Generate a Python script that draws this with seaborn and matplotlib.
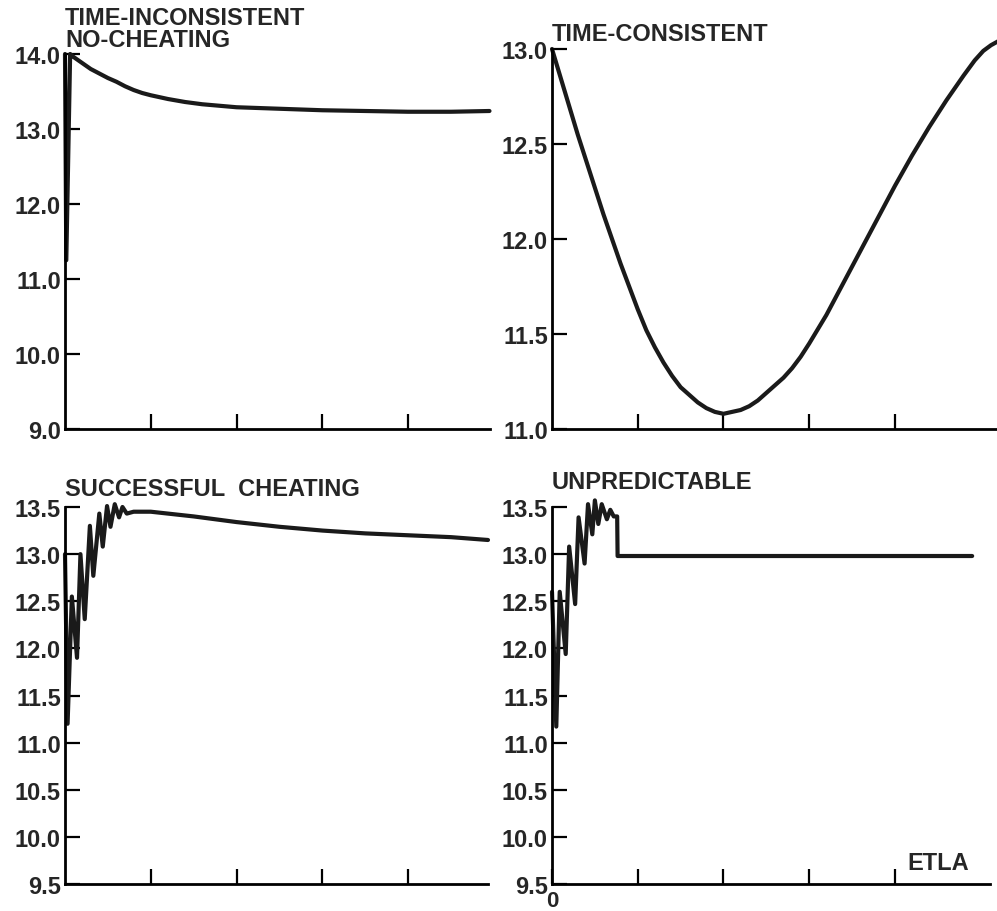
import matplotlib
matplotlib.use("Agg")
import matplotlib.pyplot as plt
import seaborn as sns

# time-inconsistent, no cheating
tl_x = [0.0, 0.15, 0.6, 1, 2, 3, 4, 5, 6, 7, 8, 9, 10, 12, 14, 16, 18, 20, 25, 30, 35, 40, 45, 49.5]
tl_y = [14.0, 11.25, 14.0, 13.96, 13.88, 13.8, 13.74, 13.68, 13.63, 13.57, 13.52, 13.48, 13.45,
        13.4, 13.36, 13.33, 13.31, 13.29, 13.27, 13.25, 13.24, 13.23, 13.23, 13.24]

# time-consistent
tr_x = [0, 1, 2, 3, 4, 5, 6, 7, 8, 9, 10, 11, 12, 13, 14, 15, 16, 17, 18, 19, 20, 21, 22, 23, 24,
        25, 26, 27, 28, 29, 30, 32, 34, 36, 38, 40, 42, 44, 46, 48, 49.3, 50.3, 51.2, 52]
tr_y = [13.0, 12.85, 12.7, 12.55, 12.41, 12.27, 12.13, 12.0, 11.87, 11.75, 11.63, 11.52, 11.43,
        11.35, 11.28, 11.22, 11.18, 11.14, 11.11, 11.09, 11.08, 11.09, 11.1, 11.12, 11.15, 11.19,
        11.23, 11.27, 11.32, 11.38, 11.45, 11.6, 11.77, 11.94, 12.11, 12.28, 12.44, 12.59, 12.73,
        12.86, 12.94, 12.99, 13.02, 13.04]

# successful cheating
bl_x = [0.0, 0.3, 0.8, 1.4, 1.8, 2.3, 2.9, 3.3, 4.0, 4.4, 4.9, 5.3, 5.8, 6.3, 6.7, 7.2, 8, 10,
        12, 15, 20, 25, 30, 35, 40, 45, 49.3]
bl_y = [13.0, 11.2, 12.55, 11.9, 13.0, 12.31, 13.3, 12.77, 13.43, 13.08, 13.51, 13.29, 13.53,
        13.39, 13.5, 13.43, 13.45, 13.45, 13.43, 13.4, 13.34, 13.29, 13.25, 13.22, 13.2, 13.18, 13.15]

# unpredictable
br_x = [0.0, 0.5, 0.9, 1.6, 2.0, 2.7, 3.1, 3.8, 4.2, 4.7, 5.0, 5.4, 5.8, 6.4, 6.8, 7.2, 7.6, 7.65, 49.0]
br_y = [12.6, 11.17, 12.6, 11.94, 13.08, 12.47, 13.39, 12.9, 13.53, 13.21, 13.57, 13.32, 13.53,
        13.37, 13.47, 13.4, 13.4, 12.98, 12.98]

sns.set_style("ticks")
plt.rcParams["font.family"] = ["Liberation Sans", "DejaVu Sans"]
plt.rcParams["font.weight"] = "bold"

W, H = 997, 912
fig = plt.figure(figsize=(W / 100, H / 100), dpi=100)


def px_axes(left, right, top, bottom):
    return fig.add_axes([left / W, 1 - bottom / H, (right - left) / W, (bottom - top) / H])


panels = [
    # x, y, pixel box, xlim, ylim, yticks
    (tl_x, tl_y, (65, 490, 55, 430), 49.56, (9.0, 14.0), [9, 10, 11, 12, 13, 14]),
    (tr_x, tr_y, (552, 997, 50, 430), 51.9, (11.0, 13.0), [11, 11.5, 12, 12.5, 13]),
    (bl_x, bl_y, (65, 488, 508, 885), 49.3, (9.5, 13.5), [9.5, 10, 10.5, 11, 11.5, 12, 12.5, 13, 13.5]),
    (br_x, br_y, (552, 990, 508, 885), 51.08, (9.5, 13.5), [9.5, 10, 10.5, 11, 11.5, 12, 12.5, 13, 13.5]),
]

for i, (x, y, box, xmax, ylim, yticks) in enumerate(panels):
    ax = px_axes(*box)
    sns.lineplot(x=x, y=y, ax=ax, sort=False, estimator=None, color="#1a1a1a",
                 linewidth=3.0, clip_on=False)
    ax.set_xlim(0, xmax)
    ax.set_ylim(*ylim)
    ax.set_yticks(yticks)
    ax.set_yticklabels([f"{v:.1f}" for v in yticks], fontsize=17, fontweight="bold")
    if i == 3:
        ax.set_xticks([0, 10, 20, 30, 40])
        ax.set_xticklabels(["0", "", "", "", ""], fontsize=16, fontweight="bold")
    else:
        ax.set_xticks([10, 20, 30, 40])
        ax.set_xticklabels([])
    ax.tick_params(axis="both", direction="in", length=11, width=1.6, color="black",
                   bottom=True, left=True, top=False, right=False)
    ax.tick_params(axis="y", pad=3)
    ax.tick_params(axis="x", pad=4)
    for s in ["top", "right"]:
        ax.spines[s].set_visible(False)
    for s in ["left", "bottom"]:
        ax.spines[s].set_color("black")
        ax.spines[s].set_linewidth(2.0)
    ax.set_xlabel("")
    ax.set_ylabel("")
    ax.set_facecolor("white")


def px_text(x, y, s, **kw):
    fig.text(x / W, 1 - y / H, s, fontsize=17, fontweight="bold", va="baseline", **kw)


px_text(65, 47, "TIME-INCONSISTENT\nNO-CHEATING", linespacing=0.92)
px_text(552, 41, "TIME-CONSISTENT")
px_text(65, 496, "SUCCESSFUL  CHEATING")
px_text(552, 489, "UNPREDICTABLE")
px_text(907, 870, "ETLA")

fig.savefig("out.png", dpi=100, facecolor="white")
